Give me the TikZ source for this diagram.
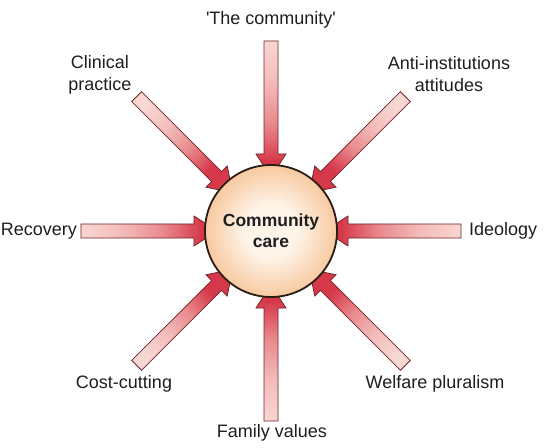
\documentclass[tikz,border=0pt]{standalone}
\usepackage{fontspec}
\setmainfont{Liberation Sans}[Ligatures=TeXOff]
\definecolor{headcol}{HTML}{D63A4A}
\definecolor{midcol}{HTML}{E98A8E}
\definecolor{lightcol}{HTML}{F3BCBA}
\definecolor{tailcol}{HTML}{F8D6D2}
\definecolor{edgecol}{HTML}{6E2428}
\definecolor{cin}{HTML}{FEF4E8}
\definecolor{cout}{HTML}{F7C9A0}
\definecolor{ringcol}{HTML}{2B1D14}
\definecolor{txtcol}{HTML}{1E1E1E}
\pgfdeclarehorizontalshading{barrow}{100bp}{color(0bp)=(headcol); color(31bp)=(headcol); color(45bp)=(midcol); color(60bp)=(lightcol); color(75bp)=(tailcol); color(100bp)=(tailcol)}
\pgfdeclareradialshading{ccare}{\pgfpoint{0bp}{0bp}}{color(0bp)=(cin); color(10bp)=(cin); color(25bp)=(cout); color(50bp)=(cout)}
\begin{document}
\begin{tikzpicture}[x=1pt,y=1pt,
  lbl/.style={font=\fontsize{18}{22.5}\selectfont, text=txtcol, inner sep=0pt, align=center},
  blockarrow/.style={draw=edgecol, line width=0.8pt, line join=miter, shading=barrow}]
\useasboundingbox (-271,-216) rectangle (275,231);
\foreach \a in {0,45,90,135,180,225,270,315}{
  \begin{scope}[rotate=\a]
    \shade[blockarrow, shading angle=\a] (190,7) -- (77,7) -- (77,15) -- (54,0) -- (77,-15) -- (77,-7) -- (190,-7) -- cycle;
  \end{scope}
}
\node[circle, minimum size=132pt, inner sep=0pt, draw=ringcol, line width=1.8pt, shading=ccare,
  font=\fontsize{17.5}{21}\selectfont\bfseries, text=txtcol, align=center] (cc) at (0,0) {Community\\care};
\node[lbl] (tc) at (0,211) {'The community'};
\node[lbl] (cp) at (-171,156) {Clinical\\practice};
\node[lbl] (ai) at (178,157) {Anti-institutions\\attitudes};
\node[lbl, anchor=east] (rc) at (-194,0) {Recovery};
\node[lbl, anchor=west] (id) at (198,0) {Ideology};
\node[lbl] (ct) at (-147,-153) {Cost-cutting};
\node[lbl] (wp) at (164,-153) {Welfare pluralism};
\node[lbl] (fv) at (1,-202) {Family values};
\end{tikzpicture}
\end{document}
